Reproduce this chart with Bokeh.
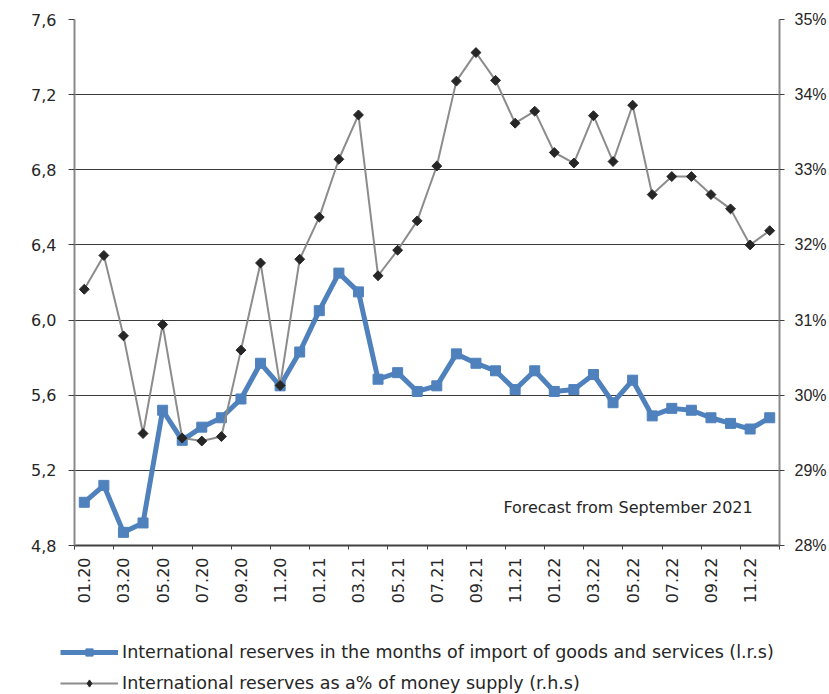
import math
import numpy as np
from bokeh.plotting import figure
from bokeh.layouts import column
from bokeh.models import (Range1d, LinearAxis, FixedTicker, Legend, LegendItem, Label)
from bokeh.embed import file_html
from bokeh.resources import INLINE

months = ["01.20", "02.20", "03.20", "04.20", "05.20", "06.20", "07.20", "08.20", "09.20", "10.20", "11.20", "12.20",
          "01.21", "02.21", "03.21", "04.21", "05.21", "06.21", "07.21", "08.21", "09.21", "10.21", "11.21", "12.21",
          "01.22", "02.22", "03.22", "04.22", "05.22", "06.22", "07.22", "08.22", "09.22", "10.22", "11.22", "12.22"]

reserves_months_import = [5.03, 5.12, 4.87, 4.92, 5.52, 5.36, 5.43, 5.48, 5.58, 5.77, 5.65, 5.83,
                          6.05, 6.25, 6.15, 5.685, 5.72, 5.62, 5.65, 5.82, 5.77, 5.73, 5.63, 5.73,
                          5.62, 5.63, 5.71, 5.56, 5.68, 5.49, 5.53, 5.52, 5.48, 5.45, 5.42, 5.48]

reserves_pct_money = [31.41, 31.86, 30.79, 29.49, 30.94, 29.43, 29.39, 29.45, 30.60, 31.76, 30.13, 31.81,
                      32.37, 33.14, 33.73, 31.59, 31.93, 32.32, 33.05, 34.18, 34.56, 34.19, 33.62, 33.78,
                      33.23, 33.09, 33.72, 33.11, 33.86, 32.67, 32.91, 32.91, 32.67, 32.48, 32.00, 32.19]

left_ticks = [4.8, 5.2, 5.6, 6.0, 6.4, 6.8, 7.2, 7.6]
right_ticks = [28, 29, 30, 31, 32, 33, 34, 35]

legend_labels = ["International reserves in the months of import of goods and services (l.r.s)",
                 "International reserves as a% of money supply (r.h.s)"]
note_text = "Forecast from September 2021"

x = [i + 0.5 for i in range(len(months))]

blue = "#4F81BD"
gray = "#8c8c8c"
dark = "#262626"

p = figure(width=829, height=610, output_backend="svg", toolbar_location=None,
           x_range=Range1d(0, len(months)), y_range=Range1d(left_ticks[0], left_ticks[-1]),
           min_border_left=74, min_border_right=48, min_border_top=19, min_border_bottom=65)
p.frame_align = False
p.outline_line_color = None
p.background_fill_color = "white"
p.border_fill_color = "white"
p.extra_y_ranges = {"pct": Range1d(right_ticks[0], right_ticks[-1])}

# x axis
xa = p.xaxis[0]
xa.ticker = FixedTicker(ticks=x[::2], minor_ticks=list(range(0, len(months) + 1, 2)))
xa.major_label_overrides = {xv: m for xv, m in zip(x[::2], months[::2])}
xa.major_label_orientation = math.pi / 2
xa.major_tick_line_color = None
xa.minor_tick_in = 0
xa.minor_tick_out = 4
xa.minor_tick_line_color = "#404040"
xa.minor_tick_line_width = 1
xa.axis_line_color = "#404040"
xa.axis_line_width = 2
xa.major_label_text_font = "DejaVu Sans"
xa.major_label_text_font_size = "16px"
xa.major_label_text_color = dark
xa.major_label_standoff = 6

# left axis
ya = p.yaxis[0]
ya.ticker = FixedTicker(ticks=left_ticks)
ya.major_label_overrides = {t: f"{t:.1f}".replace(".", ",") for t in left_ticks}
ya.major_tick_in = 0
ya.major_tick_out = 6
ya.major_tick_line_color = "#404040"
ya.minor_tick_line_color = None
ya.axis_line_color = "#8a8a8a"
ya.axis_line_width = 2
ya.major_label_text_font = "DejaVu Sans"
ya.major_label_text_font_size = "16px"
ya.major_label_text_color = dark
ya.major_label_standoff = 12

# right axis
ra = LinearAxis(y_range_name="pct", ticker=FixedTicker(ticks=right_ticks))
ra.major_label_overrides = {t: f"{t}%" for t in right_ticks}
ra.major_tick_in = 0
ra.major_tick_out = 5
ra.major_tick_line_color = "#404040"
ra.minor_tick_line_color = None
ra.axis_line_color = "#8a8a8a"
ra.axis_line_width = 2
ra.major_label_text_font = "Liberation Sans"
ra.major_label_text_font_size = "16px"
ra.major_label_text_color = dark
ra.major_label_standoff = 10
p.add_layout(ra, "right")

p.xgrid.grid_line_color = None
p.ygrid.grid_line_color = "#3a3a3a"
p.ygrid.grid_line_width = 1

p.line(x, reserves_months_import, line_color=blue, line_width=5)
p.scatter(x, reserves_months_import, marker="square", size=10, fill_color=blue, line_color=blue)

p.line(x, reserves_pct_money, y_range_name="pct", line_color=gray, line_width=2)
p.scatter(x, reserves_pct_money, y_range_name="pct", marker="square", angle=math.pi / 4, size=7,
          fill_color=dark, line_color=dark)

note = Label(x=21.9, y=5.0, text=note_text, text_font="DejaVu Sans", text_font_size="16px",
             text_color=dark, text_baseline="middle", text_align="left")
p.add_layout(note)

# legend panel
lg = figure(width=829, height=84, output_backend="svg", toolbar_location=None,
            x_axis_location=None, y_axis_location=None,
            x_range=Range1d(0, len(months)), y_range=Range1d(left_ticks[0], left_ticks[-1]),
            min_border=0)
lg.frame_align = False
lg.outline_line_color = None
lg.xgrid.grid_line_color = None
lg.ygrid.grid_line_color = None
ll1 = lg.line(x, reserves_months_import, line_color=blue, line_width=5, visible=False)
ls1 = lg.scatter(x, reserves_months_import, marker="square", size=10, fill_color=blue, line_color=blue, visible=False)
ll2 = lg.line(x, reserves_pct_money, line_color=gray, line_width=2, visible=False)
ls2 = lg.scatter(x, reserves_pct_money, marker="diamond", size=11,
                 fill_color=dark, line_color=dark, visible=False)

legend = Legend(items=[LegendItem(label=legend_labels[0], renderers=[ll1, ls1]),
                       LegendItem(label=legend_labels[1], renderers=[ll2, ls2])],
                location=(60, 1), orientation="vertical",
                glyph_width=58, glyph_height=18, label_height=18, spacing=11,
                padding=0, margin=0, label_standoff=4,
                border_line_alpha=0, background_fill_alpha=0, inactive_fill_alpha=0,
                label_text_font="DejaVu Sans", label_text_font_size="17.5px", label_text_color=dark)
lg.add_layout(legend, "center")

open("out.html", "w").write(file_html(column(p, lg, spacing=0), INLINE))
